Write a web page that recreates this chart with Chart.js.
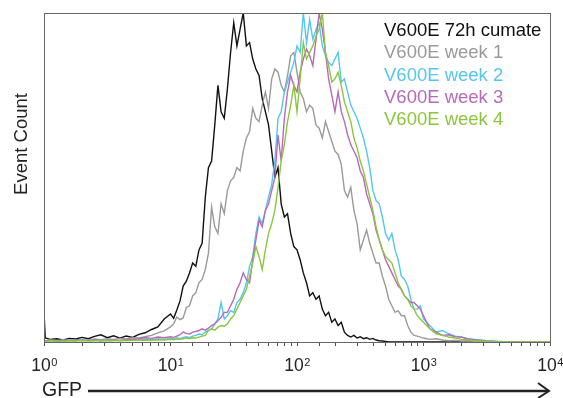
<!DOCTYPE html>
<html>
<head>
<meta charset="utf-8">
<script src="https://cdn.jsdelivr.net/npm/chart.js@4/dist/chart.umd.min.js"></script>
<style>
  html, body { margin: 0; padding: 0; background: #fff; }
  canvas { display: block; }
</style>
</head>
<body>
<canvas id="histo" width="563" height="398"></canvas>
<script>
// GFP bin centres (log-spaced), shared by all histograms
const gfpBins = [
  1, 1.023, 1.122, 1.259, 1.413, 1.585, 1.778, 1.995, 2.239, 2.512, 2.818, 3.162, 3.548, 3.981, 4.467, 5.012, 5.623, 6.310, 7.079, 7.943, 8.913,
  10, 10.59, 11.22, 11.89, 12.59, 13.34, 14.13, 14.96, 15.85, 16.79, 17.78, 18.84, 19.95, 21.13, 22.39, 23.71, 25.12, 26.61, 28.18, 29.85,
  31.62, 33.50, 35.48, 37.58, 39.81, 42.17, 44.67, 47.32, 50.12, 53.09, 56.23, 59.57, 63.10, 66.83, 70.79, 74.99, 79.43, 84.14, 89.13, 94.41,
  100, 105.9, 112.2, 118.9, 125.9, 133.4, 141.3, 149.6, 158.5, 167.9, 177.8, 188.4, 199.5, 211.3, 223.9, 237.1, 251.2, 266.1, 281.8, 298.5,
  316.2, 335.0, 354.8, 375.8, 398.1, 421.7, 446.7, 473.2, 501.2, 530.9, 562.3, 595.7, 631.0, 668.3, 707.9, 749.9, 794.3, 841.4, 891.3, 944.1,
  1000, 1122, 1259, 1413, 1585, 1778, 1995, 2239, 2512, 2818, 3162, 3981, 5012, 6310, 7943, 10000
];

// event counts, scaled to % of the tallest peak
const cumate72h = [
  9, 1.2, 0.8, 1.0, 0.6, 1.1, 0.9, 1.4, 1.0, 1.7, 2.2, 1.3, 1.9, 1.2, 1.8, 1.4, 2.3, 2.8, 3.8, 4.6, 7.0,
  8.5, 7.2, 9.7, 12.5, 17, 18.5, 21, 24, 23, 28, 30, 44, 53, 55, 66, 78, 70, 68, 77, 88,
  97, 90, 95, 100, 90, 91, 86, 83, 81, 74, 70, 66, 58, 50, 53, 42, 38, 39, 33, 29,
  28, 25, 21, 18, 14, 15, 13, 14, 10, 8, 9, 6, 7, 5, 6, 3, 2, 1.5, 2, 1.2,
  1.6, 1.0, 1.3, 0.8, 1.1, 0.6, 0.4, 0.3, 0.2, 0, 0, 0, 0, 0, 0, 0, 0, 0, 0, 0,
  0, 0, 0, 0, 0, 0, 0, 0, 0, 0, 0, 0, 0, 0, 0, 0
];
const week1 = [
  0.5, 0.4, 0.6, 0.4, 0.7, 0.5, 0.6, 0.8, 0.5, 0.9, 0.7, 1.0, 0.8, 1.1, 0.9, 1.3, 1.2, 1.6, 2.0, 2.8, 3.4,
  4.6, 5.5, 7.6, 6.8, 7.3, 10.5, 11, 14, 15, 18, 19, 22, 27, 41, 35, 33, 42, 39, 46, 49,
  50, 53, 52, 58, 62, 64, 71, 68, 67, 72, 76, 71, 80, 83, 82, 78, 76, 81, 87, 88,
  82, 76, 74, 70, 72, 71, 66, 65, 62, 67, 64, 61, 58, 57, 54, 46, 44, 47, 40, 36,
  28, 31, 34, 30, 27, 24, 24, 20, 17, 13, 11, 9, 9.5, 8, 8, 5, 3, 2, 1.8, 1.5,
  1.2, 0.8, 1.0, 0.6, 0.4, 0.5, 0.3, 0.4, 0.2, 0.3, 0.1, 0, 0, 0, 0, 0
];
const week2 = [
  0.4, 0.3, 0.5, 0.3, 0.4, 0.5, 0.3, 0.6, 0.4, 0.5, 0.4, 0.6, 0.5, 0.4, 0.6, 0.5, 0.6, 0.8, 0.7, 1.0, 0.8,
  1.1, 0.9, 1.3, 1.0, 1.4, 1.6, 1.3, 1.8, 2.0, 2.4, 2.2, 3.0, 3.5, 4.0, 5.5, 7, 12, 7, 8, 9.5,
  9, 12, 13, 15, 18, 23, 26, 33, 38, 36, 40, 44, 48, 55, 68, 70, 76, 79, 82, 85,
  90, 88, 100, 91, 98, 92, 95, 97, 90, 87, 85, 84, 86, 88, 79, 80, 76, 72, 70, 68,
  65, 62, 58, 53, 46, 43, 42, 38, 33, 31, 33, 28, 25, 20, 19, 17, 13, 10, 10, 11,
  7, 5, 3, 3.5, 2.5, 1.8, 1.5, 1.0, 0.8, 0.6, 0.4, 0.2, 0, 0, 0, 0
];
const week3 = [
  0.4, 0.3, 0.5, 0.4, 0.3, 0.5, 0.6, 0.4, 0.5, 0.6, 0.4, 0.5, 0.6, 0.5, 0.7, 0.8, 1.0, 1.3, 1.1, 1.5, 1.3,
  1.6, 1.4, 1.8, 2.2, 3.0, 2.6, 2.4, 3.0, 3.2, 3.5, 4.0, 3.6, 4.2, 5.0, 5.5, 6.5, 7.5, 9, 9, 11,
  13, 16, 18, 21, 19, 18, 25, 31, 37, 35, 40, 42, 46, 50, 63, 55, 68, 76, 81, 78,
  76, 82, 86, 89, 87, 84, 92, 100, 95, 88, 80, 75, 70, 76, 70, 67, 63, 60, 58, 56,
  52, 50, 45, 42, 39, 34, 31, 28, 25, 23, 21, 19, 17, 16, 14, 13, 12, 12, 11, 10,
  8, 4, 3, 2, 2.2, 1.6, 1.5, 0.9, 0.7, 0.5, 0.3, 0.1, 0, 0, 0, 0
];
const week4 = [
  0.3, 0.2, 0.4, 0.3, 0.2, 0.4, 0.3, 0.5, 0.3, 0.4, 0.5, 0.3, 0.4, 0.5, 0.4, 0.5, 0.5, 0.6, 0.5, 0.7, 0.6,
  0.8, 0.7, 0.9, 0.8, 1.0, 1.2, 1.0, 1.3, 1.2, 1.5, 1.8, 2.0, 3.5, 4.0, 3.6, 4.5, 5.0, 4.8, 5.5, 7,
  8, 10, 12, 14, 16, 20, 24, 29, 26, 22, 28, 33, 36, 40, 47, 55, 60, 67, 72, 78,
  70, 80, 91, 86, 88, 90, 93, 95, 100, 88, 84, 79, 80, 82, 78, 73, 70, 67, 62, 59,
  55, 52, 48, 44, 40, 35, 31, 28, 26, 25, 24, 21, 18, 16, 14, 13, 11, 10, 8, 7,
  6, 4, 2.5, 2, 1.5, 1.2, 0.8, 0.6, 0.4, 0.3, 0.2, 0.1, 0, 0, 0, 0
];

const seriesLabels = ['V600E 72h cumate', 'V600E week 1', 'V600E week 2', 'V600E week 3', 'V600E week 4'];
const seriesColors = ['#111111', '#9a9a9a', '#55c6f0', '#b86ab8', '#8cc63f'];
const seriesCounts = [cumate72h, week1, week2, week3, week4];
const decades = [1, 10, 100, 1000, 10000];

const FONT = '"Liberation Sans", Arial, sans-serif';

// frame, decade labels, legend text, axis titles
const decorations = {
  id: 'decorations',
  afterDraw(chart) {
    const { ctx, chartArea: a, scales } = chart;
    ctx.save();
    ctx.strokeStyle = '#666';
    ctx.lineWidth = 1;
    ctx.strokeRect(a.left + 0.5, a.top + 0.5, a.right - a.left, a.bottom - a.top);

    ctx.fillStyle = '#222';
    ctx.textAlign = 'left';
    ctx.textBaseline = 'alphabetic';
    decades.forEach(v => {
      const x = scales.x.getPixelForValue(v);
      const exp = String(Math.round(Math.log10(v)));
      ctx.font = '17.5px ' + FONT;
      const w1 = ctx.measureText('10').width;
      ctx.font = '11px ' + FONT;
      const w2 = ctx.measureText(exp).width;
      const x0 = x - (w1 + w2) / 2;
      ctx.font = '17.5px ' + FONT;
      ctx.fillText('10', x0, 371);
      ctx.font = '11px ' + FONT;
      ctx.fillText(exp, x0 + w1 + 0.5, 366);
    });

    // legend as coloured text
    ctx.font = '18.5px ' + FONT;
    seriesLabels.forEach((lbl, i) => {
      ctx.fillStyle = seriesColors[i];
      ctx.fillText(lbl, 384, 36 + i * 22.3);
    });

    // y title
    ctx.fillStyle = '#222';
    ctx.save();
    ctx.translate(27, 144);
    ctx.rotate(-Math.PI / 2);
    ctx.textAlign = 'center';
    ctx.fillText('Event Count', 0, 0);
    ctx.restore();

    // x title with arrow
    ctx.font = '19.5px ' + FONT;
    ctx.fillText('GFP', 42, 396);
    ctx.strokeStyle = '#222';
    ctx.lineWidth = 2.5;
    ctx.beginPath();
    ctx.moveTo(88, 391);
    ctx.lineTo(548, 391);
    ctx.stroke();
    ctx.lineWidth = 2;
    ctx.beginPath();
    ctx.moveTo(538, 383);
    ctx.lineTo(549, 391);
    ctx.lineTo(538, 398);
    ctx.stroke();
    ctx.restore();
  }
};

new Chart(document.getElementById('histo').getContext('2d'), {
  type: 'line',
  data: {
    datasets: seriesCounts.map((counts, i) => ({
      label: seriesLabels[i],
      data: counts.map((c, j) => ({ x: gfpBins[j], y: c })),
      borderColor: seriesColors[i],
      borderWidth: 1.4,
      pointRadius: 0,
      tension: 0,
      fill: false,
      order: seriesCounts.length - i
    }))
  },
  options: {
    responsive: false,
    animation: false,
    layout: { padding: { top: 13, right: 13, left: 0, bottom: 0 } },
    plugins: { legend: { display: false }, tooltip: { enabled: false } },
    scales: {
      x: {
        type: 'logarithmic',
        min: 1,
        max: 10000,
        border: { display: false },
        grid: { drawOnChartArea: false, drawTicks: true, tickLength: 4, color: '#555' },
        ticks: { display: false },
        afterFit(scale) { scale.height = 56; }
      },
      y: {
        min: 0,
        max: 100,
        border: { display: false },
        grid: { display: false },
        ticks: { display: false },
        afterFit(scale) { scale.width = 44; }
      }
    }
  },
  plugins: [decorations]
});
</script>
</body>
</html>
